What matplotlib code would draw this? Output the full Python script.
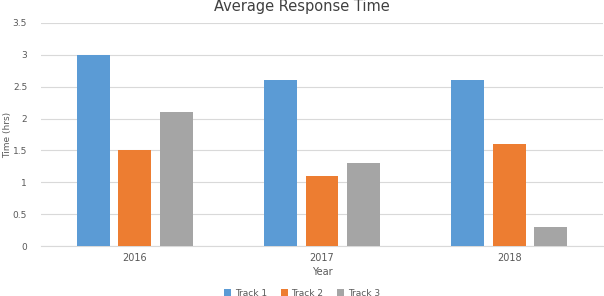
import matplotlib
matplotlib.use("Agg")
import matplotlib.pyplot as plt
import numpy as np

years = ["2016", "2017", "2018"]
series_names = ["Track 1", "Track 2", "Track 3"]
track1 = [3.0, 2.6, 2.6]
track2 = [1.5, 1.1, 1.6]
track3 = [2.1, 1.3, 0.3]
colors = ["#5B9BD5", "#ED7D31", "#A5A5A5"]

fig = plt.figure(figsize=(6.04, 2.96), dpi=100)
ax = fig.add_axes([41/604, 1-246/296, 562/604, 223/296])

x = np.arange(len(years))
width = 0.176
step = 0.222
for i, (vals, name, c) in enumerate(zip([track1, track2, track3], series_names, colors)):
    ax.bar(x + (i-1)*step, vals, width, color=c, label=name, zorder=3)

ax.set_xlim(-0.5, 2.5)
ax.set_ylim(0, 3.5)
ax.set_yticks(np.arange(0, 3.51, 0.5))
ax.set_yticklabels(["0", "0.5", "1", "1.5", "2", "2.5", "3", "3.5"])
ax.set_xticks(x)
ax.set_xticklabels(years)
ax.grid(axis="y", color="#D9D9D9", linewidth=0.8, zorder=0)
for s in ["top", "right", "left"]:
    ax.spines[s].set_visible(False)
ax.spines["bottom"].set_color("#D9D9D9")
ax.tick_params(axis="y", length=0, labelsize=6.5, colors="#595959", pad=10)
ax.tick_params(axis="x", length=0, labelsize=7, colors="#595959", pad=5)
ax.set_xlabel("Year", fontsize=7, color="#595959", labelpad=3)
ax.set_ylabel("Time (hrs)", fontsize=6.5, color="#595959")
ax.yaxis.set_label_coords(-29/562, 0.5)
fig.text(0.5, 1-7/296, "Average Response Time", ha="center", va="center", fontsize=10.5, color="#404040")
fig.legend(loc="center", bbox_to_anchor=(0.5, 1-293/296), ncol=3, frameon=False,
           fontsize=6.5, handlelength=0.8, handleheight=0.8, columnspacing=1.5, handletextpad=0.4,
           labelcolor="#595959")
fig.savefig("out.png", dpi=100)
